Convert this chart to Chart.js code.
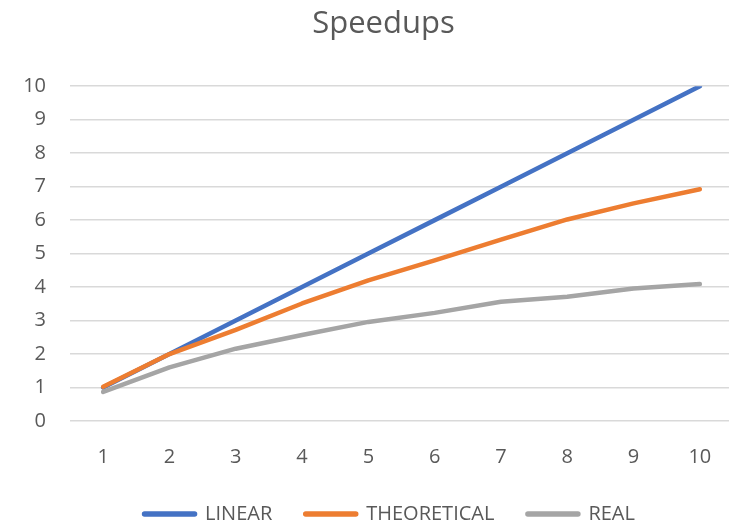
<!DOCTYPE html>
<html>
<head>
<meta charset="utf-8">
<script src="https://cdn.jsdelivr.net/npm/chart.js@4.4.1/dist/chart.umd.min.js"></script>
<style>
  html, body { margin: 0; padding: 0; overflow: hidden; background: #fff; }
  #wrap { width: 772px; height: 534px; }
</style>
</head>
<body>
<div id="wrap"><canvas id="speedupCanvas"></canvas></div>
<script>
// values
var threads = ['1', '2', '3', '4', '5', '6', '7', '8', '9', '10'];
var linear = [1, 2, 3, 4, 5, 6, 7, 8, 9, 10];
var theoretical = [1.02, 2.0, 2.72, 3.51, 4.2, 4.8, 5.42, 6.02, 6.5, 6.92];
var real = [0.87, 1.6, 2.16, 2.57, 2.96, 3.23, 3.56, 3.71, 3.96, 4.09];

var textColor = '#595959';
Chart.defaults.font.family = "'Open Sans', sans-serif";
Chart.defaults.color = textColor;

function line(label, data, color, order) {
    return {
        label: label,
        data: data,
        borderColor: color,
        backgroundColor: color,
        borderWidth: 4.5,
        borderCapStyle: 'round',
        borderJoinStyle: 'round',
        pointRadius: 0,
        tension: 0,
        order: order
    };
}

// the original centres title and legend a bit right of the plot's middle
var nudgeBoxes = {
    id: 'nudgeBoxes',
    afterLayout: function (c) {
        c.titleBlock.left += 17;
        c.titleBlock.right += 17;
        c.legend.left += 23;
        c.legend.right += 23;
    }
};

var chart = new Chart(document.getElementById('speedupCanvas'), {
    type: 'line',
    data: {
        labels: threads,
        datasets: [
            line('LINEAR', linear, '#4472C4', 2),
            line('THEORETICAL', theoretical, '#ED7D31', 1),
            line('REAL', real, '#A5A5A5', 0)
        ]
    },
    plugins: [nudgeBoxes],
    options: {
        responsive: true,
        maintainAspectRatio: false,
        animation: false,
        layout: { padding: { left: 0, right: 39, top: 0, bottom: 0 } },
        plugins: {
            title: {
                display: true,
                text: 'Speedups',
                color: textColor,
                font: { size: 31, weight: 'normal' },
                padding: { top: 6, bottom: 43 }
            },
            legend: {
                position: 'bottom',
                labels: {
                    boxWidth: 51,
                    boxHeight: 1,
                    useBorderRadius: true,
                    borderRadius: 0.5,
                    padding: 33,
                    color: textColor,
                    font: { size: 20 },
                    sort: function (a, b) { return a.datasetIndex - b.datasetIndex; }
                }
            },
            tooltip: { enabled: false }
        },
        scales: {
            x: {
                offset: true,
                grid: { display: false, drawTicks: false },
                border: { display: false },
                ticks: { padding: 24, font: { size: 20 }, color: textColor, maxRotation: 0 },
                afterFit: function (scale) { scale.height = 50; }
            },
            y: {
                min: 0,
                max: 10,
                grid: { color: '#d9d9d9', lineWidth: 1.5, drawTicks: false },
                border: { display: false },
                ticks: { stepSize: 1, padding: 24, font: { size: 20 }, color: textColor },
                afterFit: function (scale) { scale.width = 70; }
            }
        }
    }
});
</script>
</body>
</html>
